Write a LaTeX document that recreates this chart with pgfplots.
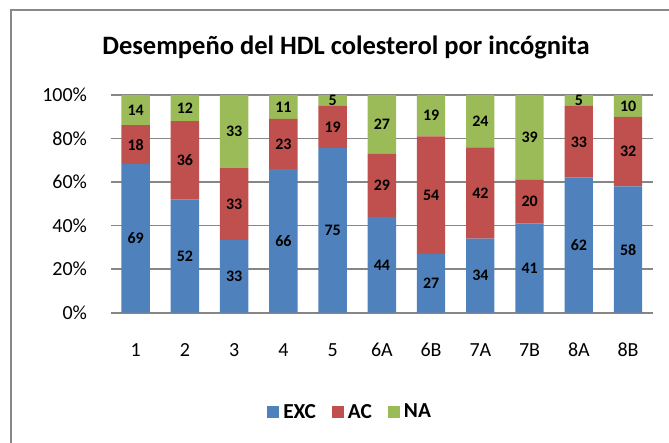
\documentclass[border=0pt]{standalone}
\usepackage{fontspec}
\setmainfont{Carlito}
\usepackage{pgfplots}
\usepackage{pgfplotstable}
\pgfplotsset{compat=1.18}

\definecolor{exc}{HTML}{4F81BD}
\definecolor{ac}{HTML}{C0504D}
\definecolor{na}{HTML}{9BBB59}
\definecolor{gridc}{HTML}{868686}
\definecolor{framec}{HTML}{898989}

% percentages per incognita
\pgfplotstableread{
x lab exc ac na
0 1  69 18 14
1 2  52 36 12
2 3  33 33 33
3 4  66 23 11
4 5  75 19 5
5 6A 44 29 27
6 6B 27 54 19
7 7A 34 42 24
8 7B 41 20 39
9 8A 62 33 5
10 8B 58 32 10
}\datatable

\pgfplotsset{
  hdlaxis/.style={
    at={(83.25pt,97.7pt)}, anchor=south west,
    scale only axis, width=406.3pt, height=163.3pt,
    xmin=-0.5, xmax=10.5, ymin=0, ymax=100,
  },
  lbl/.style={draw=none, mark=none, nodes near coords,
    point meta=explicit symbolic,
    every node near coord/.append style={anchor=center, inner sep=0pt,
      font=\fontsize{12}{14}\selectfont\bfseries, text=black}},
}

\begin{document}
\begin{tikzpicture}
\useasboundingbox (0,0) rectangle (501.75pt,332.25pt);
\draw[framec, line width=1.5pt] (8.25pt,-10pt) rectangle (520pt,324.5pt);
\node[anchor=base, font=\fontsize{19.9}{24}\selectfont\bfseries]
  at (259.5pt,291pt) {Desempeño del HDL colesterol por incógnita};

\begin{axis}[hdlaxis,
  ybar stacked, bar width=21.2pt,
  axis x line*=bottom, axis y line*=left,
  x axis line style={gridc, line width=1.5pt, -},
  y axis line style={draw=none},
  major tick length=0pt,
  ymajorgrids, grid style={gridc, line width=1.1pt},
  xtick={0,...,10},
  xticklabels from table={\datatable}{lab},
  ytick={0,20,40,60,80,100},
  yticklabels={0\%,20\%,40\%,60\%,80\%,100\%},
  ticklabel style={font=\fontsize{15}{18}\selectfont},
  xticklabel style={anchor=base, yshift=-33pt},
  yticklabel style={anchor=east, inner sep=0pt, xshift=-17.8pt},
  legend style={at={(0.442,-0.456)}, anchor=center, draw=none, fill=none,
    legend columns=3, font=\fontsize{16}{19}\selectfont\bfseries,
    /tikz/every odd column/.append style={column sep=1pt},
    /tikz/every even column/.append style={column sep=10pt}},
  legend image code/.code={\fill[#1] (0pt,-4.5pt) rectangle (9pt,4.5pt);},
]
\addplot[fill=exc, draw=none] table[x=x, y expr={100*\thisrow{exc}/(\thisrow{exc}+\thisrow{ac}+\thisrow{na})}] {\datatable};
\addlegendentry{EXC}
\addplot[fill=ac, draw=none] table[x=x, y expr={100*\thisrow{ac}/(\thisrow{exc}+\thisrow{ac}+\thisrow{na})}] {\datatable};
\addlegendentry{AC}
\addplot[fill=na, draw=none] table[x=x, y expr={100*\thisrow{na}/(\thisrow{exc}+\thisrow{ac}+\thisrow{na})}] {\datatable};
\addlegendentry{NA}
\end{axis}

% segment labels, centred in each segment
\begin{axis}[hdlaxis, hide axis]
\addplot[lbl] table[x=x, meta=exc, y expr={100*(\thisrow{exc}/2)/(\thisrow{exc}+\thisrow{ac}+\thisrow{na})}] {\datatable};
\addplot[lbl] table[x=x, meta=ac, y expr={100*(\thisrow{exc}+\thisrow{ac}/2)/(\thisrow{exc}+\thisrow{ac}+\thisrow{na})}] {\datatable};
\addplot[lbl] table[x=x, meta=na, y expr={100*(\thisrow{exc}+\thisrow{ac}+\thisrow{na}/2)/(\thisrow{exc}+\thisrow{ac}+\thisrow{na})}] {\datatable};
\end{axis}
\end{tikzpicture}
\end{document}
